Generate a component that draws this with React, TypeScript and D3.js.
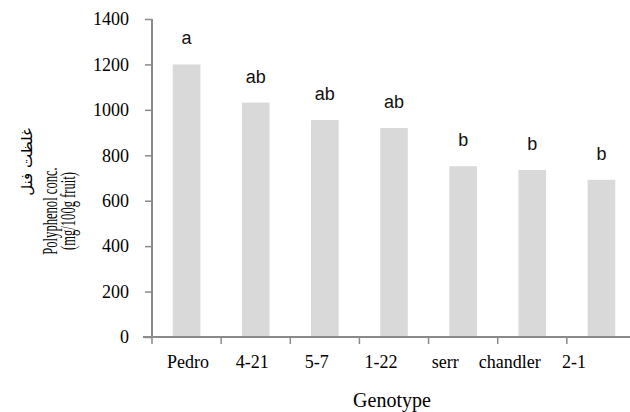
import React, { useEffect, useRef } from 'react';
import * as d3 from 'd3';

const genotypes = ['Pedro', '4-21', '5-7', '1-22', 'serr', 'chandler', '2-1'];
const polyphenol = [1200, 1032, 955, 920, 752, 735, 692];
const groups = ['a', 'ab', 'ab', 'ab', 'b', 'b', 'b'];
const yTicks = [0, 200, 400, 600, 800, 1000, 1200, 1400];

const W = 630;
const H = 412;

const App = () => {
  const svgRef = useRef<SVGSVGElement>(null);

  useEffect(() => {
    const svg = d3.select(svgRef.current);
    svg.selectAll('*').remove();

    const axisColor = '#8a8a8a';
    const serif = 'Liberation Serif';
    const sans = 'Liberation Sans';

    const x = d3.scaleBand<string>()
      .domain(genotypes)
      .range([152, 636])
      .paddingInner(0.6)
      .paddingOuter(0.3);

    const y = d3.scaleLinear()
      .domain([0, 1400])
      .range([337, 19]);

    // category labels sit slightly off the band centres in the original
    const labelX = d3.scalePoint<string>()
      .domain(genotypes)
      .range([188, 574]);

    const data = genotypes.map((g, i) => ({ g, v: polyphenol[i], grp: groups[i] }));

    // bars
    svg.selectAll('.bar')
      .data(data)
      .enter()
      .append('rect')
      .attr('class', 'bar')
      .attr('x', d => x(d.g)!)
      .attr('y', d => y(d.v))
      .attr('width', x.bandwidth())
      .attr('height', d => y(0) - y(d.v))
      .attr('fill', '#d9d9d9');

    // significance letters
    svg.selectAll('.grp')
      .data(data)
      .enter()
      .append('text')
      .attr('class', 'grp')
      .attr('x', d => x(d.g)! + x.bandwidth() / 2)
      .attr('y', d => y(d.v) - 20)
      .attr('text-anchor', 'middle')
      .attr('font-family', sans)
      .attr('font-size', 18)
      .attr('fill', '#111')
      .text(d => d.grp);

    // y axis
    const yAxis = svg.append('g')
      .attr('transform', 'translate(152,0)')
      .call(d3.axisLeft(y).tickValues(yTicks).tickSize(7).tickPadding(16).tickFormat(d3.format('d')))
      .attr('font-family', serif)
      .attr('font-size', 18);
    yAxis.select('.domain').attr('stroke', axisColor).attr('stroke-width', 2).attr('d', `M0,${y(1400)}V${y(0)}`);
    yAxis.selectAll('.tick line').attr('stroke', axisColor).attr('stroke-width', 1.5);
    yAxis.selectAll('.tick text').attr('fill', '#000');

    // x axis line and category boundary ticks
    const step = x.step();
    const x0 = x.range()[0];
    svg.append('line')
      .attr('x1', 143).attr('x2', x.range()[1])
      .attr('y1', y(0)).attr('y2', y(0))
      .attr('stroke', axisColor).attr('stroke-width', 2);
    svg.selectAll('.xtick')
      .data(d3.range(genotypes.length + 1))
      .enter()
      .append('line')
      .attr('class', 'xtick')
      .attr('x1', i => x0 + i * step)
      .attr('x2', i => x0 + i * step)
      .attr('y1', y(0))
      .attr('y2', y(0) + 7)
      .attr('stroke', axisColor)
      .attr('stroke-width', 1.5);

    svg.selectAll('.xlabel')
      .data(genotypes)
      .enter()
      .append('text')
      .attr('class', 'xlabel')
      .attr('x', d => labelX(d)!)
      .attr('y', 368)
      .attr('text-anchor', 'middle')
      .attr('font-family', serif)
      .attr('font-size', 18)
      .text(d => d);

    // axis titles
    svg.append('text')
      .attr('x', 392)
      .attr('y', 407)
      .attr('text-anchor', 'middle')
      .attr('font-family', serif)
      .attr('font-size', 20)
      .text('Genotype');

    svg.append('text')
      .attr('transform', 'translate(32,162) rotate(-90)')
      .attr('text-anchor', 'middle')
      .attr('direction', 'rtl')
      .attr('font-family', 'DejaVu Sans')
      .attr('font-size', 15)
      .text('غلظت فنل');

    // the rotated title is condensed along its length in the original
    svg.append('text')
      .attr('transform', 'translate(57,211) rotate(-90) scale(0.6,1)')
      .attr('text-anchor', 'middle')
      .attr('font-family', serif)
      .attr('font-size', 21)
      .text('Polyphenol conc.');

    svg.append('text')
      .attr('transform', 'translate(75,211) rotate(-90) scale(0.6,1)')
      .attr('text-anchor', 'middle')
      .attr('font-family', serif)
      .attr('font-size', 21)
      .text('(mg/100g fruit)');
  }, []);

  return (
    <svg
      ref={svgRef}
      width={W}
      height={H}
      style={{ position: 'absolute', left: 0, top: 0, background: '#fff' }}
    />
  );
};

export default App;
